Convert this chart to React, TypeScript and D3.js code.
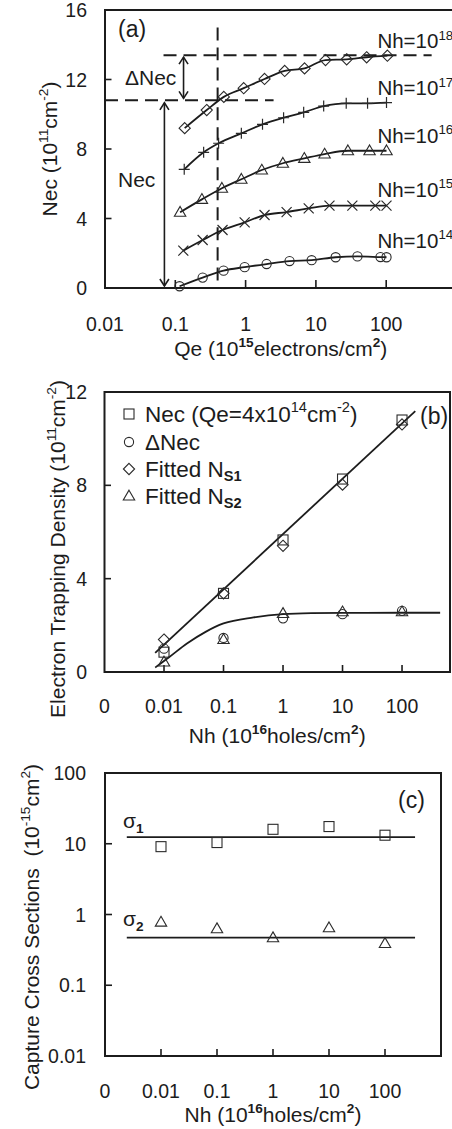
import React from 'react';
import * as d3 from 'd3';

const FONT = "'Liberation Sans', Arial, Helvetica, sans-serif";
const INK = '#1c1c1c';

// ---------- Panel (a): Nec vs Qe for several Nh ----------
const qeNh14 = [0.115, 0.245, 0.486, 0.97, 1.99, 4.22, 8.7, 19.1, 39, 83, 101];
const necNh14 = [0.1, 0.6, 1.0, 1.2, 1.38, 1.55, 1.6, 1.77, 1.82, 1.78, 1.77];
const qeNh15 = [0.13, 0.245, 0.47, 0.97, 1.86, 3.83, 7.9, 15.6, 33, 70, 101];
const necNh15 = [2.15, 2.76, 3.34, 3.78, 4.2, 4.37, 4.58, 4.74, 4.74, 4.74, 4.74];
const qeNh16 = [0.117, 0.239, 0.46, 0.87, 1.7, 3.39, 6.84, 13.3, 28.5, 58, 101];
const necNh16 = [4.36, 5.1, 5.74, 6.26, 6.79, 7.18, 7.46, 7.71, 7.9, 7.9, 7.9];
const qeNh17 = [0.134, 0.253, 0.413, 0.87, 1.74, 3.47, 6.7, 12.9, 27, 54.3, 101];
const necNh17 = [6.83, 7.81, 8.33, 8.9, 9.42, 9.8, 10.11, 10.47, 10.63, 10.63, 10.67];
const qeNh18 = [0.136, 0.28, 0.49, 0.94, 1.86, 3.6, 6.9, 13.7, 27.4, 52.7, 104];
const necNh18 = [9.2, 10.24, 11.0, 11.5, 12.03, 12.49, 12.64, 13.12, 13.16, 13.28, 13.37];
const nhExponents = ['18', '17', '16', '15', '14'];
const nhLabelNec = [13.8, 11.08, 8.35, 5.24, 2.3];
const nhLabelQe = 75;

const qeTicksA = [0.01, 0.1, 1, 10, 100];
const qeTickLabelsA = ['0.01', '0.1', '1', '10', '100'];
const necTicksA = [0, 4, 8, 12, 16];

const qeRef = 0.4;
const necLow = 10.8;
const necHigh = 13.4;

// ---------- Panel (b): trapping density vs Nh ----------
const nhB = [0.01, 0.1, 1, 10, 100];
const necB = [0.85, 3.37, 5.66, 8.27, 10.8];
const dNecB = [1.0, 1.46, 2.3, 2.48, 2.62];
const ns1B = [1.39, 3.37, 5.41, 8.03, 10.61];
const ns2B = [0.43, 1.39, 2.51, 2.58, 2.58];
const fit1Nh = [0.0071, 167];
const fit1Val = [0.82, 11.18];
const fit2Nh = [0.0071, 0.012, 0.0243, 0.05, 0.1, 0.32, 1, 3, 10, 100, 437];
const fit2Val = [0.19, 0.62, 1.22, 1.72, 2.08, 2.34, 2.48, 2.52, 2.53, 2.54, 2.54];
const nhTicksB = [0.001, 0.01, 0.1, 1, 10, 100];
const nhTickLabels = ['0', '0.01', '0.1', '1', '10', '100'];
const densTicksB = [0, 4, 8, 12];

// ---------- Panel (c): capture cross sections ----------
const nhC = [0.01, 0.1, 1, 10, 100];
const sigma1 = [9.1, 10.4, 16, 17.5, 13.2];
const sigma2 = [0.78, 0.63, 0.47, 0.65, 0.39];
const sigmaFitNh = [0.00245, 344];
const sigma1Fit = 12.4;
const sigma2Fit = 0.47;
const sigTicksC = [0.01, 0.1, 1, 10, 100];
const sigTickLabels = ['0.01', '0.1', '1', '10', '100'];

// ---------- scales ----------
const xA = d3.scaleLog().domain([0.01, 1000]).range([105, 456.5]);
const yA = d3.scaleLinear().domain([0, 16]).range([288, 10]);
const xB = d3.scaleLog().domain([0.001, 640]).range([104.5, 450]);
const yB = d3.scaleLinear().domain([0, 12]).range([672, 392]);
const xC = d3.scaleLog().domain([0.001, 1000]).range([105, 441]);
const yC = d3.scaleLog().domain([0.01, 100]).range([1056, 773]);

type Seg = { t: string; sup?: boolean; sub?: boolean; bold?: boolean };

function Rich({ x, y, segs, size, anchor = 'start', rotate = false }: { x: number; y: number; segs: Seg[]; size: number; anchor?: string; rotate?: boolean }) {
  let prev = 0;
  const spans = segs.map((s, i) => {
    const shift = s.sup ? -0.42 * size : s.sub ? 0.22 * size : 0;
    const dy = shift - prev;
    prev = shift;
    return (
      <tspan key={i} dy={dy} fontSize={s.sup || s.sub ? size * 0.65 : size} fontWeight={s.bold ? 'bold' : 'normal'}>
        {s.t}
      </tspan>
    );
  });
  if (rotate) {
    return (
      <text transform={`translate(${x},${y}) rotate(-90)`} x={0} y={0} textAnchor={anchor} fontFamily={FONT} fill={INK} fontSize={size}>
        {spans}
      </text>
    );
  }
  return (
    <text x={x} y={y} textAnchor={anchor} fontFamily={FONT} fill={INK} fontSize={size}>
      {spans}
    </text>
  );
}

type MarkerKind = 'circle' | 'square' | 'diamond' | 'triangle' | 'plus' | 'cross';

function Marker({ kind, x, y }: { kind: MarkerKind; x: number; y: number }) {
  const common = { fill: 'none', stroke: '#2a2a2a', strokeWidth: 1.1 };
  switch (kind) {
    case 'circle':
      return <circle cx={x} cy={y} r={4.6} {...common} />;
    case 'square':
      return <rect x={x - 5} y={y - 5} width={10} height={10} {...common} />;
    case 'diamond':
      return <path d={`M${x},${y - 5.6}L${x + 5.6},${y}L${x},${y + 5.6}L${x - 5.6},${y}Z`} {...common} />;
    case 'triangle':
      return <path d={`M${x},${y - 5.8}L${x + 5.7},${y + 4}L${x - 5.7},${y + 4}Z`} {...common} />;
    case 'plus':
      return <path d={`M${x - 5.5},${y}H${x + 5.5}M${x},${y - 5.5}V${y + 5.5}`} {...common} strokeWidth={1.2} />;
    case 'cross':
      return <path d={`M${x - 5},${y - 5}L${x + 5},${y + 5}M${x - 5},${y + 5}L${x + 5},${y - 5}`} {...common} strokeWidth={1.2} />;
  }
  return null;
}

function Arrow({ x, y1, y2, both }: { x: number; y1: number; y2: number; both: boolean }) {
  const h = 7, w = 4.5;
  return (
    <g stroke={INK} strokeWidth={1.6} fill="none">
      <line x1={x} y1={y1} x2={x} y2={y2} />
      {both && <path d={`M${x - w},${y1 + h}L${x},${y1}L${x + w},${y1 + h}`} />}
      <path d={`M${x - w},${y2 - h}L${x},${y2}L${x + w},${y2 - h}`} />
    </g>
  );
}

export default function App() {
  const lineA = d3
    .line<[number, number]>()
    .x((d) => xA(d[0]))
    .y((d) => yA(d[1]))
    .curve(d3.curveMonotoneX);

  const seriesA: { qe: number[]; nec: number[]; kind: MarkerKind }[] = [
    { qe: qeNh14, nec: necNh14, kind: 'circle' },
    { qe: qeNh15, nec: necNh15, kind: 'cross' },
    { qe: qeNh16, nec: necNh16, kind: 'triangle' },
    { qe: qeNh17, nec: necNh17, kind: 'plus' },
    { qe: qeNh18, nec: necNh18, kind: 'diamond' },
  ];

  const tickFont = 19.5;
  const titleFont = 21;

  const aL = xA.range()[0], aR = xA.range()[1], aT = yA.range()[1], aB = yA.range()[0];
  const bL = xB.range()[0], bR = xB.range()[1], bT = yB.range()[1], bB = yB.range()[0];
  const cL = xC.range()[0], cR = xC.range()[1], cT = yC.range()[1], cB = yC.range()[0];

  const lineB = d3
    .line<[number, number]>()
    .x((d) => xB(d[0]))
    .y((d) => yB(d[1]));
  const curveB = d3
    .line<[number, number]>()
    .x((d) => xB(d[0]))
    .y((d) => yB(d[1]))
    .curve(d3.curveMonotoneX);

  const legendRows: { kind: MarkerKind; segs: Seg[] }[] = [
    { kind: 'square', segs: [{ t: 'Nec (Qe=4x10' }, { t: '14', sup: true }, { t: 'cm' }, { t: '-2', sup: true }, { t: ')' }] },
    { kind: 'circle', segs: [{ t: '\u0394Nec' }] },
    { kind: 'diamond', segs: [{ t: 'Fitted N' }, { t: 'S1', sub: true, bold: true }] },
    { kind: 'triangle', segs: [{ t: 'Fitted N' }, { t: 'S2', sub: true, bold: true }] },
  ];
  const legendY = [414, 442, 469, 496];

  return (
    <svg width={452} height={1129} style={{ position: 'absolute', left: 0, top: 0, background: '#fff' }} xmlns="http://www.w3.org/2000/svg">
      <rect x={0} y={0} width={452} height={1129} fill="#fff" />

      {/* ================= Panel (a) ================= */}
      <g>
        <rect x={aL} y={aT} width={aR - aL} height={aB - aT} fill="none" stroke={INK} strokeWidth={2} />
        {necTicksA.map((v) => (
          <g key={'ay' + v}>
            <line x1={aL} x2={aL + 6.5} y1={yA(v)} y2={yA(v)} stroke={INK} strokeWidth={1.6} />
            <text x={87} y={yA(v) + 7} textAnchor="end" fontFamily={FONT} fontSize={tickFont} fill={INK}>
              {v}
            </text>
          </g>
        ))}
        {qeTicksA.map((v, i) => (
          <g key={'ax' + v}>
            <line x1={xA(v)} x2={xA(v)} y1={aB} y2={aB - 8} stroke={INK} strokeWidth={1.6} />
            <text x={xA(v)} y={331} textAnchor="middle" fontFamily={FONT} fontSize={tickFont} fill={INK}>
              {qeTickLabelsA[i]}
            </text>
          </g>
        ))}
        <g stroke={INK} strokeWidth={2} strokeDasharray="13,7" fill="none">
          <line x1={xA(0.068)} x2={xA(443)} y1={yA(necHigh)} y2={yA(necHigh)} />
          <line x1={aL} x2={xA(2.5)} y1={yA(necLow)} y2={yA(necLow)} />
          <line x1={xA(qeRef)} x2={xA(qeRef)} y1={yA(15)} y2={aB} />
        </g>
        <Arrow x={xA(0.131)} y1={yA(necHigh) + 2} y2={yA(necLow) - 2} both />
        <Arrow x={xA(0.07)} y1={yA(necLow) + 2.5} y2={yA(0) - 2} both />
        <Rich x={125} y={85} segs={[{ t: '\u0394Nec' }]} size={titleFont} />
        <Rich x={118} y={187} segs={[{ t: 'Nec' }]} size={titleFont} />
        <Rich x={118} y={37} segs={[{ t: '(a)' }]} size={23} />
        {seriesA.map((s, si) => {
          const pts = s.qe.map((q, i) => [q, s.nec[i]] as [number, number]);
          return (
            <g key={'sa' + si}>
              <path d={lineA(pts) || ''} fill="none" stroke={INK} strokeWidth={1.8} />
              {pts.map((p, i) => (
                <Marker key={i} kind={s.kind} x={xA(p[0])} y={yA(p[1])} />
              ))}
            </g>
          );
        })}
        {nhExponents.map((e, i) => (
          <Rich key={'nh' + e} x={xA(nhLabelQe)} y={yA(nhLabelNec[i])} segs={[{ t: 'Nh=10' }, { t: e, sup: true }]} size={20.5} />
        ))}
        <Rich x={(aL + aR) / 2} y={356} anchor="middle" size={titleFont} segs={[{ t: 'Qe (10' }, { t: '15', sup: true, bold: true }, { t: 'electrons/cm' }, { t: '2', sup: true, bold: true }, { t: ')' }]} />
        <Rich x={57} y={(aT + aB) / 2} anchor="middle" rotate size={titleFont} segs={[{ t: 'Nec (10' }, { t: '11', sup: true }, { t: 'cm' }, { t: '-2', sup: true }, { t: ')' }]} />
      </g>

      {/* ================= Panel (b) ================= */}
      <g>
        <rect x={bL} y={bT} width={bR - bL} height={bB - bT} fill="none" stroke={INK} strokeWidth={2} />
        {densTicksB.map((v) => (
          <g key={'by' + v}>
            <line x1={bL} x2={bL + 6.5} y1={yB(v)} y2={yB(v)} stroke={INK} strokeWidth={1.6} />
            <text x={87} y={yB(v) + 7} textAnchor="end" fontFamily={FONT} fontSize={tickFont} fill={INK}>
              {v}
            </text>
          </g>
        ))}
        {nhTicksB.map((v, i) => (
          <g key={'bx' + v}>
            {i > 0 && <line x1={xB(v)} x2={xB(v)} y1={bB} y2={bB - 7} stroke={INK} strokeWidth={1.6} />}
            <text x={xB(v)} y={713} textAnchor="middle" fontFamily={FONT} fontSize={tickFont} fill={INK}>
              {nhTickLabels[i]}
            </text>
          </g>
        ))}
        <path d={lineB(fit1Nh.map((n, i) => [n, fit1Val[i]] as [number, number])) || ''} fill="none" stroke={INK} strokeWidth={1.8} />
        <path d={curveB(fit2Nh.map((n, i) => [n, fit2Val[i]] as [number, number])) || ''} fill="none" stroke={INK} strokeWidth={1.8} />
        {nhB.map((n, i) => (
          <g key={'bm' + i}>
            <Marker kind="square" x={xB(n)} y={yB(necB[i])} />
            <Marker kind="circle" x={xB(n)} y={yB(dNecB[i])} />
            <Marker kind="diamond" x={xB(n)} y={yB(ns1B[i])} />
            <Marker kind="triangle" x={xB(n)} y={yB(ns2B[i])} />
          </g>
        ))}
        {legendRows.map((r, i) => (
          <g key={'lg' + i}>
            <Marker kind={r.kind} x={129} y={legendY[i]} />
            <Rich x={145} y={legendY[i] + 7.5} segs={r.segs} size={22.5} />
          </g>
        ))}
        <Rich x={420} y={424} segs={[{ t: '(b)' }]} size={23} />
        <Rich x={(bL + bR) / 2} y={743} anchor="middle" size={titleFont} segs={[{ t: 'Nh (10' }, { t: '16', sup: true, bold: true }, { t: 'holes/cm' }, { t: '2', sup: true, bold: true }, { t: ')' }]} />
        <Rich x={65} y={549} anchor="middle" rotate size={titleFont} segs={[{ t: 'Electron Trapping Density (10' }, { t: '11', sup: true }, { t: 'cm' }, { t: '-2', sup: true }, { t: ')' }]} />
      </g>

      {/* ================= Panel (c) ================= */}
      <g>
        <rect x={cL} y={cT} width={cR - cL} height={cB - cT} fill="none" stroke={INK} strokeWidth={2} />
        {sigTicksC.map((v, i) => (
          <g key={'cy' + v}>
            {i > 0 && i < sigTicksC.length - 1 && <line x1={cL} x2={cL + 7} y1={yC(v)} y2={yC(v)} stroke={INK} strokeWidth={1.6} />}
            <text x={86} y={yC(v) + 7} textAnchor="end" fontFamily={FONT} fontSize={tickFont} fill={INK}>
              {sigTickLabels[i]}
            </text>
          </g>
        ))}
        {nhTicksB.map((v, i) => (
          <g key={'cx' + v}>
            {i > 0 && <line x1={xC(v)} x2={xC(v)} y1={cB} y2={cB - 7} stroke={INK} strokeWidth={1.6} />}
            <text x={xC(v)} y={1098} textAnchor="middle" fontFamily={FONT} fontSize={tickFont} fill={INK}>
              {nhTickLabels[i]}
            </text>
          </g>
        ))}
        <line x1={xC(sigmaFitNh[0])} x2={xC(sigmaFitNh[1])} y1={yC(sigma1Fit)} y2={yC(sigma1Fit)} stroke={INK} strokeWidth={1.8} />
        <line x1={xC(sigmaFitNh[0])} x2={xC(sigmaFitNh[1])} y1={yC(sigma2Fit)} y2={yC(sigma2Fit)} stroke={INK} strokeWidth={1.8} />
        {nhC.map((n, i) => (
          <g key={'cm' + i}>
            <Marker kind="square" x={xC(n)} y={yC(sigma1[i])} />
            <Marker kind="triangle" x={xC(n)} y={yC(sigma2[i])} />
          </g>
        ))}
        <Rich x={123} y={828} segs={[{ t: '\u03c3' }, { t: '1', sub: true, bold: true }]} size={21} />
        <Rich x={123} y={926} segs={[{ t: '\u03c3' }, { t: '2', sub: true, bold: true }]} size={21} />
        <Rich x={398} y={808} segs={[{ t: '(c)' }]} size={23} />
        <Rich x={(cL + cR) / 2} y={1122} anchor="middle" size={titleFont} segs={[{ t: 'Nh (10' }, { t: '16', sup: true, bold: true }, { t: 'holes/cm' }, { t: '2', sup: true, bold: true }, { t: ')' }]} />
        <Rich x={39} y={927} anchor="middle" rotate size={titleFont} segs={[{ t: 'Capture Cross Sections\u00a0\u00a0(10' }, { t: '-15', sup: true }, { t: 'cm' }, { t: '2', sup: true }, { t: ')' }]} />
      </g>
    </svg>
  );
}
